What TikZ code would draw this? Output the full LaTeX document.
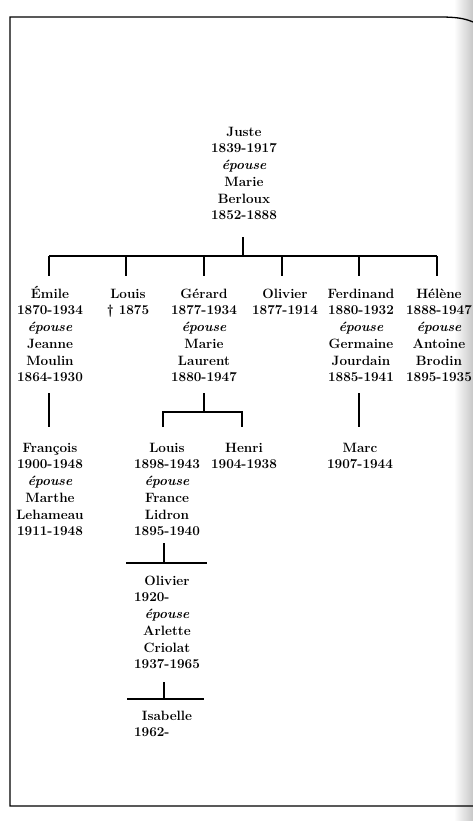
\documentclass[tikz,border=0pt]{standalone}
\usepackage{fontspec}
\newcommand\personfont{\fontsize{13.5}{16.7}\selectfont\bfseries}
\newcommand\ep{{\itshape épouse}}
\newcommand\fl{\rule{0pt}{13pt}}
\begin{document}
\begin{tikzpicture}[x=1pt,y=-1pt,
  person/.style={align=center,inner sep=0pt,anchor=north,font=\personfont},
  link/.style={line width=1.1pt},
  frameline/.style={line width=1.3pt}]
\useasboundingbox (0,0) rectangle (473,821);
% page edge shading (scan)
\shade[left color=white,right color=black!22] (454,0) rectangle (473,821);
% frame
\draw[frameline] (473,22) .. controls (464,18) and (454,17) .. (440,17) -- (10,17) -- (10,806) -- (473,806);

% people (node top = first baseline - 13)
\node[person] (juste) at (244,123) {\fl Juste\\1839-1917\\\ep\\Marie\\Berloux\\1852-1888};
\node[person] (emile) at (50,285) {\fl Émile\\1870-1934\\\ep\\Jeanne\\Moulin\\1864-1930};
\node[person] (louisA) at (128,285) {\fl Louis\\\textdagger\ 1875};
\node[person] (gerard) at (204,285) {\fl Gérard\\1877-1934\\\ep\\Marie\\Laurent\\1880-1947};
\node[person] (olivierA) at (285,285) {\fl Olivier\\1877-1914};
\node[person] (ferdinand) at (361,285) {\fl Ferdinand\\1880-1932\\\ep\\Germaine\\Jourdain\\1885-1941};
\node[person] (helene) at (439,285) {\fl Hélène\\1888-1947\\\ep\\Antoine\\Brodin\\1895-1935};
\node[person] (francois) at (50,439) {\fl François\\1900-1948\\\ep\\Marthe\\Lehameau\\1911-1948};
\node[person] (louisB) at (167,439) {\fl Louis\\1898-1943\\\ep\\France\\Lidron\\1895-1940};
\node[person] (henri) at (244,439) {\fl Henri\\1904-1938};
\node[person] (marc) at (360,439) {\fl Marc\\1907-1944};
\node[person] (olivierB) at (167,572) {\fl Olivier\\1920-\phantom{1965}\\\ep\\Arlette\\Criolat\\1937-1965};
\node[person] (isabelle) at (167,707) {\fl Isabelle\\1962-\phantom{1965}};

% connector points
\coordinate (j0) at (243,237);
\coordinate (j1) at (243,256);
\coordinate (busL) at (49,256);
\coordinate (busR) at (437,256);
\coordinate (e0) at (49,393);   \coordinate (e1) at (49,427);
\coordinate (g0) at (204,393);  \coordinate (g1) at (204,412);
\coordinate (gL) at (163,412);  \coordinate (gR) at (242,412);
\coordinate (f0) at (359,393);  \coordinate (f1) at (359,427);
\coordinate (l0) at (164,543);  \coordinate (l1) at (164,563);
\coordinate (lL) at (126,563);  \coordinate (lR) at (207,563);
\coordinate (o0) at (164,682);  \coordinate (o1) at (164,699);
\coordinate (oL) at (127,699);  \coordinate (oR) at (204,699);

% generation 1
\draw[link] (j0) -- (j1);
\draw[link] (busL) -- (busR);
\foreach \x in {49,126,204,282,359,437}
  \draw[link] (\x,256) -- (\x,276);
% generation 2
\draw[link] (e0) -- (e1);
\draw[link] (g0) -- (g1);
\draw[link] (gL |- 0,427) -- (gL) -- (gR) -- (gR |- 0,427);
\draw[link] (f0) -- (f1);
% generation 3
\draw[link] (l0) -- (l1);
\draw[link] (lL) -- (lR);
% generation 4
\draw[link] (o0) -- (o1);
\draw[link] (oL) -- (oR);
\end{tikzpicture}
\end{document}
